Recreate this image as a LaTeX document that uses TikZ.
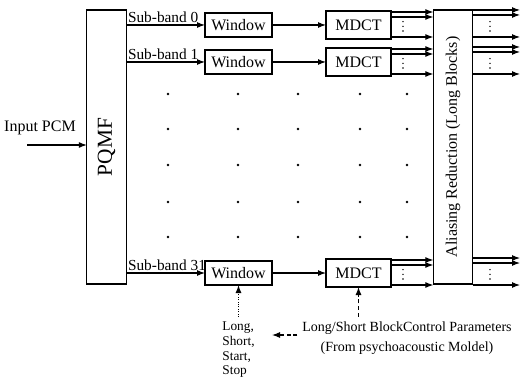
\documentclass[tikz,border=0pt]{standalone}
\usepackage{fontspec}
\setmainfont{Liberation Serif}
\usepackage{tikz}
\usetikzlibrary{arrows.meta}

\begin{document}
\begin{tikzpicture}[x=0.75pt, y=-0.75pt, line width=0.8pt,
		>={Latex[length=6pt, width=4.5pt]},
		font=\fontsize{11.5}{13}\selectfont,
		tallbox/.style={draw, minimum width=29.5pt, minimum height=205.5pt, inner sep=0pt, outer sep=0pt},
		winbox/.style={draw, minimum width=50.25pt, minimum height=18pt, inner sep=0pt, outer sep=0pt, font=\fontsize{12}{12}\selectfont},
		mdctbox/.style={winbox, minimum width=48.75pt, minimum height=21pt}]
	\useasboundingbox (0,0) rectangle (523,377);

	\node[tallbox] (pqmf) at (106.5,147) {\rotatebox{90}{\fontsize{16}{16}\selectfont PQMF}};
	\node[tallbox] (alias) at (453,147) {\rotatebox{90}{\fontsize{12}{12}\selectfont Aliasing Reduction (Long Blocks)}};
	\coordinate (outx) at (520,147);

	\node[font=\fontsize{12}{12}\selectfont] (inlab) at (40,128) {Input PCM};
	\coordinate (insrc) at (27,145);
	\draw[->] (insrc) -- (pqmf.west |- insrc);

	\foreach \r/\y in {0/25, 1/62, 31/273} {
		\node[winbox] (win\r) at (238.5,\y) {Window};
		\node[mdctbox] (mdct\r) at (358.5,\y) {MDCT};
		\draw[->] (pqmf.east |- win\r) -- (win\r);
		\node[anchor=south west, inner sep=1pt] (sub\r) at (pqmf.east |- win\r) {Sub-band \r};
		\draw[->] (win\r) -- (mdct\r);
		% into the aliasing block
		\draw[->] ([yshift=9.75pt]mdct\r.east) -- ([yshift=9.75pt]alias.west |- mdct\r);
		\draw[->] ([yshift=6pt]mdct\r.east) -- ([yshift=6pt]alias.west |- mdct\r);
		\draw[->] ([yshift=-9pt]mdct\r.east) -- ([yshift=-9pt]alias.west |- mdct\r);
		\coordinate (din\r) at ([xshift=9pt, yshift=-1pt]mdct\r.east);
		% out of the aliasing block
		\draw[->] ([yshift=11.25pt]alias.east |- mdct\r) -- ([yshift=11.25pt]outx |- mdct\r);
		\draw[->] ([yshift=7.5pt]alias.east |- mdct\r) -- ([yshift=7.5pt]outx |- mdct\r);
		\draw[->] ([yshift=-9pt]alias.east |- mdct\r) -- ([yshift=-9pt]outx |- mdct\r);
		\coordinate (dout\r) at ([xshift=13pt, yshift=-1pt]alias.east |- mdct\r);
		\foreach \d in {-3.5,0,3.5} {
			\fill ([yshift=\d pt]din\r) circle[radius=0.6pt];
			\fill ([yshift=\d pt]dout\r) circle[radius=0.6pt];
		}
	}

	\foreach \x in {168,238,298,360,407}
		\foreach \y in {94,129,165,202,237}
			\fill (\x,\y) circle[radius=1.1pt];

	\node[anchor=north, align=left, font=\fontsize{10}{11}\selectfont] (modes) at (238.5,317) {Long,\\Short,\\Start,\\Stop};
	\draw[->, densely dotted] (modes) -- (win31);

	\node[align=center, font=\fontsize{10.5}{15}\selectfont] (params) at (407,338) {Long/Short BlockControl Parameters\\(From psychoacoustic Moldel)};
	\draw[->, densely dashed] (params.north -| mdct31) -- (mdct31);
	\coordinate (ctl) at (272,335);
	\draw[->, densely dashed] (params.west |- ctl) -- (ctl);
%	\draw[red] (0,0) rectangle (523,377);
\end{tikzpicture}
\end{document}
